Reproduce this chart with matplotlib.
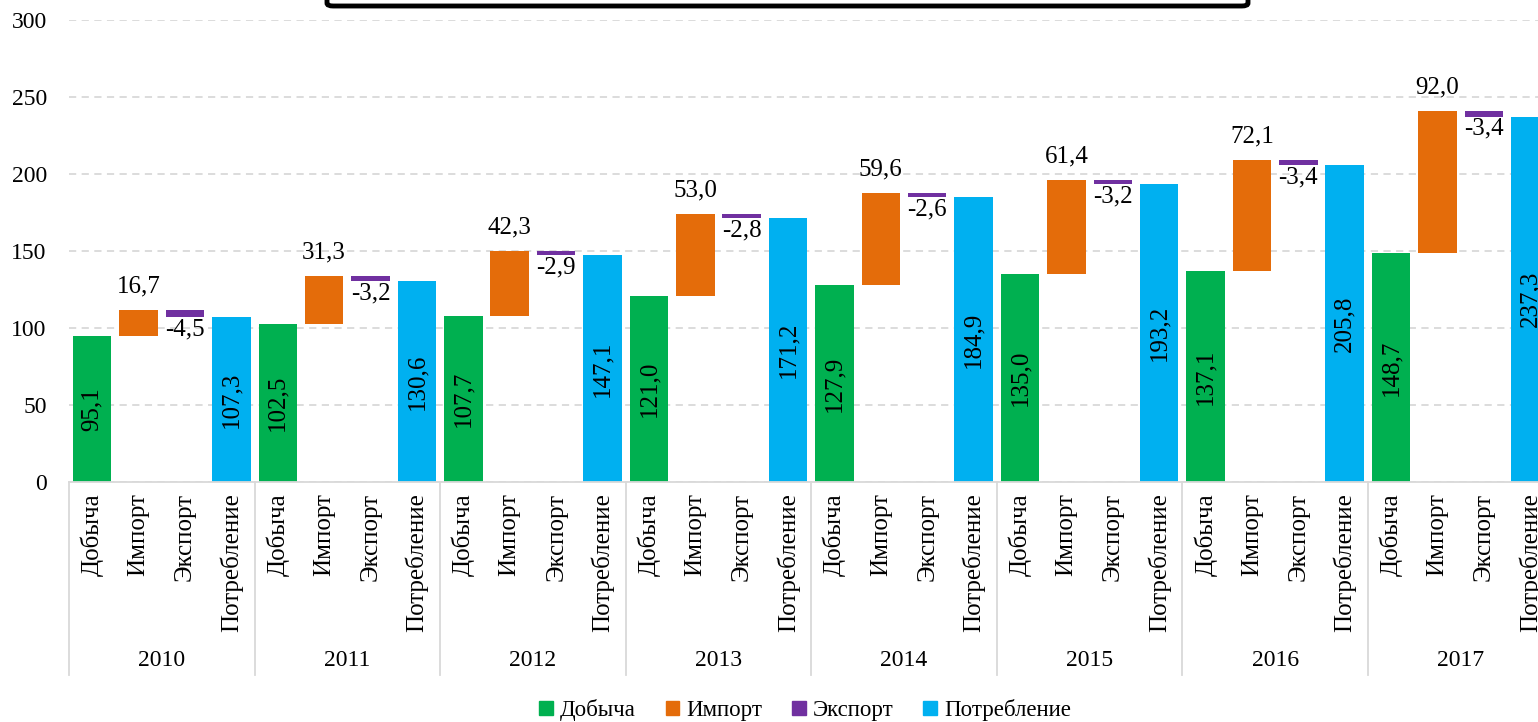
import matplotlib
matplotlib.use("Agg")
import matplotlib.pyplot as plt
from matplotlib.patches import FancyBboxPatch, Patch

plt.rcParams['font.family'] = ['Liberation Serif', 'DejaVu Serif']

years = ['2010', '2011', '2012', '2013', '2014', '2015', '2016', '2017']
categories = ['Добыча', 'Импорт', 'Экспорт', 'Потребление']
production = [95.1, 102.5, 107.7, 121.0, 127.9, 135.0, 137.1, 148.7]
imports = [16.7, 31.3, 42.3, 53.0, 59.6, 61.4, 72.1, 92.0]
exports = [-4.5, -3.2, -2.9, -2.8, -2.6, -3.2, -3.4, -3.4]
consumption = [107.3, 130.6, 147.1, 171.2, 184.9, 193.2, 205.8, 237.3]

colors = {'Добыча': '#00b050', 'Импорт': '#e46c0a',
          'Экспорт': '#7030a0', 'Потребление': '#00b0f0'}

def fmt(v):
    return ('%.1f' % v).replace('.', ',')

W, H = 1538, 722
fig = plt.figure(figsize=(W / 100, H / 100), dpi=100)
ax = fig.add_axes([69 / W, (H - 482) / H, 1484.5 / W, 462 / H])

bw = 0.83
fs = 18
for g in range(len(years)):
    x0 = g * 4
    d, im, ex, c = production[g], imports[g], exports[g], consumption[g]
    ax.bar(x0, d, bw, color=colors['Добыча'])
    ax.bar(x0 + 1, im, bw, bottom=d, color=colors['Импорт'])
    ax.bar(x0 + 2, -ex, bw, bottom=d + im + ex, color=colors['Экспорт'])
    ax.bar(x0 + 3, c, bw, color=colors['Потребление'])
    ax.text(x0, d / 2, fmt(d), rotation=90, ha='center', va='center', fontsize=fs)
    ax.text(x0 + 3, c / 2, fmt(c), rotation=90, ha='center', va='center', fontsize=fs)
    ax.annotate(fmt(im), (x0 + 1, d + im), xytext=(0, 9), textcoords='offset points',
                ha='center', va='bottom', fontsize=fs)
    ax.annotate(fmt(ex), (x0 + 2, d + im + ex), xytext=(0, -1), textcoords='offset points',
                ha='center', va='top', fontsize=fs)

ax.set_xlim(-0.5, len(years) * 4 - 0.5)
ax.set_ylim(0, 300)
ax.set_yticks(range(0, 301, 50))
ax.tick_params(axis='y', length=0, pad=16, labelsize=17)
ax.yaxis.grid(True, color='#d9d9d9', linestyle=(0, (4, 3)), linewidth=1.3)
ax.set_axisbelow(True)
for s in ['left', 'right', 'top']:
    ax.spines[s].set_visible(False)
ax.spines['bottom'].set_color('#d9d9d9')
ax.spines['bottom'].set_linewidth(1.3)

ax.set_xticks(range(len(years) * 4))
ax.set_xticklabels(categories * len(years), rotation=90, va='top', fontsize=fs)
ax.tick_params(axis='x', length=0, pad=8)

trans = ax.get_xaxis_transform()
line_bottom = -(675 - 482) / 462
for g in range(len(years) + 1):
    ax.plot([g * 4 - 0.5, g * 4 - 0.5], [0, line_bottom], color='#d9d9d9',
            linewidth=1.3, transform=trans, clip_on=False)
for g, yr in enumerate(years):
    ax.text(g * 4 + 1.5, -(660 - 482) / 462, yr, transform=trans,
            ha='center', va='center', fontsize=17)

handles = [Patch(color=colors[c], label=c) for c in categories]
fig.legend(handles=handles, loc='center', bbox_to_anchor=(805 / W, 1 - 710 / H),
           ncol=4, frameon=False, fontsize=16.5, handlelength=0.6, handleheight=0.6,
           handletextpad=0.3, columnspacing=1.3)

box = FancyBboxPatch((327 / W, 1 - 6 / H), 921 / W, 40 / H,
                     boxstyle='round,pad=0,rounding_size=0.004',
                     transform=fig.transFigure, facecolor='white',
                     edgecolor='black', linewidth=3.5, clip_on=False)
fig.patches.append(box)

fig.savefig('out.png', dpi=100)
